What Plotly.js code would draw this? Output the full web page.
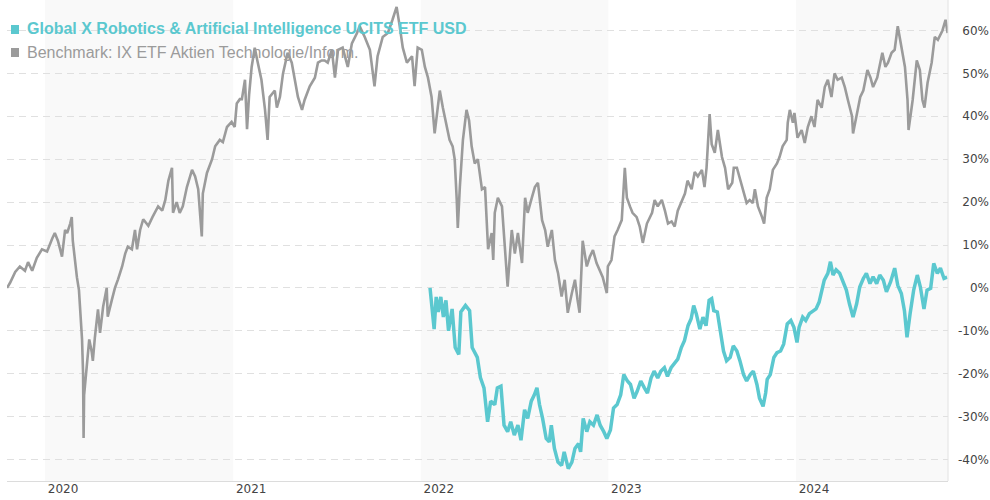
<!DOCTYPE html>
<html>
<head>
<meta charset="utf-8">
<script src="https://cdn.plot.ly/plotly-3.0.1.min.js"></script>
<style>
html,body{margin:0;padding:0;background:#fff;}
#chart{width:990px;height:500px;}
</style>
</head>
<body>
<div id="chart"></div>
<script>
// ---------- DATA ----------
const etfName = "Global X Robotics &amp; Artificial Intelligence UCITS ETF USD";
const benchName = "Benchmark: IX ETF Aktien Technologie/Inform.";

const benchDates = [
"2019-10-19","2019-10-25","2019-11-04","2019-11-13","2019-11-23","2019-11-29","2019-12-07","2019-12-16","2019-12-26",
"2020-01-05","2020-01-15","2020-01-20","2020-01-26","2020-02-03","2020-02-09","2020-02-13","2020-02-19","2020-02-22","2020-02-24",
"2020-02-28","2020-03-03","2020-03-07","2020-03-09","2020-03-11","2020-03-13","2020-03-15","2020-03-16","2020-03-17","2020-03-19",
"2020-03-21","2020-03-23","2020-03-27","2020-04-01","2020-04-03","2020-04-07","2020-04-13","2020-04-17","2020-04-23","2020-04-30",
"2020-05-02","2020-05-10","2020-05-16","2020-05-22","2020-05-30","2020-06-05","2020-06-10","2020-06-18","2020-06-24","2020-06-28",
"2020-07-04","2020-07-10","2020-07-20","2020-07-28","2020-08-02","2020-08-08","2020-08-16","2020-08-22","2020-08-28","2020-09-04",
"2020-09-06","2020-09-13","2020-09-19","2020-09-25","2020-10-03","2020-10-13","2020-10-19","2020-10-25","2020-11-01","2020-11-03",
"2020-11-11","2020-11-21","2020-11-27","2020-12-06","2020-12-12","2020-12-20","2020-12-29","2021-01-04","2021-01-08","2021-01-14",
"2021-01-18","2021-01-24","2021-01-28","2021-02-01","2021-02-06","2021-02-12","2021-02-17","2021-02-25","2021-03-04","2021-03-09",
"2021-03-13","2021-03-23","2021-03-27","2021-04-02","2021-04-08","2021-04-17","2021-04-25","2021-05-01","2021-05-07","2021-05-15",
"2021-05-20","2021-05-30","2021-06-09","2021-06-15","2021-06-22","2021-06-28","2021-07-04","2021-07-12","2021-07-18","2021-07-24",
"2021-08-02","2021-08-12","2021-08-20","2021-08-30","2021-09-04","2021-09-14","2021-09-24","2021-10-03","2021-10-09","2021-10-19",
"2021-10-29","2021-11-07","2021-11-15","2021-11-21","2021-11-27","2021-12-05","2021-12-15","2021-12-20","2021-12-26","2022-01-03",
"2022-01-09","2022-01-15","2022-01-22","2022-01-28","2022-02-03","2022-02-07","2022-02-13","2022-02-21","2022-02-26","2022-03-04",
"2022-03-08","2022-03-12","2022-03-14","2022-03-18","2022-03-24","2022-03-31","2022-04-05","2022-04-10","2022-04-16","2022-04-22",
"2022-04-30","2022-05-06","2022-05-12","2022-05-19","2022-05-22","2022-05-25","2022-05-31","2022-06-08","2022-06-13","2022-06-19",
"2022-06-27","2022-07-03","2022-07-09","2022-07-17","2022-07-23","2022-07-28","2022-08-05","2022-08-11","2022-08-17","2022-08-25",
"2022-08-31","2022-09-05","2022-09-13","2022-09-19","2022-09-25","2022-10-02","2022-10-08","2022-10-14","2022-10-22","2022-10-28",
"2022-11-02","2022-11-06","2022-11-12","2022-11-20","2022-11-26","2022-12-02","2022-12-09","2022-12-15","2022-12-21","2022-12-29",
"2022-12-31","2023-01-07","2023-01-13","2023-01-19","2023-01-27","2023-02-02","2023-02-06","2023-02-12","2023-02-17","2023-02-25",
"2023-03-03","2023-03-09","2023-03-17","2023-03-27","2023-04-01","2023-04-07","2023-04-15","2023-04-21","2023-04-27","2023-05-04",
"2023-05-10","2023-05-16","2023-05-24","2023-05-30","2023-06-04","2023-06-12","2023-06-18","2023-06-24","2023-07-02","2023-07-07",
"2023-07-11","2023-07-14","2023-07-17","2023-07-21","2023-07-27","2023-08-02","2023-08-10","2023-08-16","2023-08-22","2023-08-30",
"2023-09-02","2023-09-08","2023-09-13","2023-09-19","2023-09-27","2023-10-03","2023-10-09","2023-10-13","2023-10-19","2023-10-27",
"2023-10-31","2023-11-05","2023-11-11","2023-11-17","2023-11-25","2023-11-30","2023-12-06","2023-12-14","2023-12-16","2023-12-20",
"2023-12-26","2023-12-29","2024-01-04","2024-01-12","2024-01-18","2024-01-24","2024-01-31","2024-02-06","2024-02-12","2024-02-20",
"2024-02-26","2024-03-03","2024-03-10","2024-03-16","2024-03-22","2024-03-30","2024-04-05","2024-04-11","2024-04-19","2024-04-21",
"2024-04-29","2024-05-05","2024-05-11","2024-05-19","2024-05-25","2024-05-30","2024-06-07","2024-06-17","2024-06-23","2024-06-28",
"2024-07-05","2024-07-11","2024-07-17","2024-07-25","2024-07-31","2024-08-05","2024-08-07","2024-08-15","2024-08-23","2024-08-29",
"2024-09-03","2024-09-07","2024-09-13","2024-09-21","2024-09-27","2024-10-03","2024-10-10","2024-10-12","2024-10-18","2024-10-22"
];
const benchValues = [
0,1.2,3.7,5,4,6,4,7,9,
8.5,11.5,12.8,11,7.3,13.5,12.8,15,16.5,11,
5.8,2.5,-0.5,-5,-8,-12,-20,-35,-25,-22,
-21,-17,-12,-15,-17,-11.5,-5,-10.5,-4.4,0,
-6.7,-2.8,0,2,5,8,9.6,9,13.5,9,
13.5,16,14.5,16.5,17.5,19,18,20.5,25,28,
17.5,20,17.5,19,23.5,27.5,26,23,12,22,
26.8,30,33,34.5,34,37.5,38.7,37.5,43,44,
44,48.5,37,45,51.5,56,53,48.5,41.5,34.5,
44.5,46,42,44.5,50,54.8,52.5,48.5,44.5,41.5,
43.8,47,49,52.5,53,53,52.5,55.5,49,55.5,
56,51.5,57,59.4,61,58.5,55.5,47,54,58.5,
59.4,62.5,65.5,61,56,52.5,54,47,56,55.5,
51.5,49,44.5,36,41.5,46,42,37.5,34.5,33,
30,20.5,14,23.5,34.5,41.5,39,33,29,30,
23,23.5,9,12.8,6.5,17.5,21,19,9.6,0.3,
13.5,8,12.8,5.8,21,17.5,21,23.5,24.5,15.8,
13.5,9.6,13.5,6.5,3.5,-2,1.9,-5.8,-1.2,1.9,
-2.8,-5.8,11,5,7.3,8.8,5.8,4.2,2.5,-1.2,
5,6.5,12,13.5,15.8,28,21,19,17.5,16.5,
14.3,10.5,15,17.5,20.5,19,20.5,18,15,15.5,
14.3,18,20.5,22,25,23,27,26,27.5,23.5,
28,34,40.5,33.5,31.5,36.8,30.5,28,23,24.5,
28,28,26,23,19.8,20.5,19.8,23,19,16.5,
15,21,23,27.5,29,30.5,33,34.5,38.5,41.5,
38.5,40.8,35,36.8,33.8,37.5,40,37.5,43.8,42,
46.8,48.5,44.5,50,48.5,49,46.8,43.8,40,36,
40.8,44.5,46,50.8,49,46.8,49,54.8,51.5,52.5,
54.8,55.5,61,55.5,51.5,43.8,36.8,43.8,53,50.8,
43.8,42,47.8,52.5,58.5,57.8,59.4,60,62.5,59.4
];

const etfDates = [
"2022-01-19","2022-01-22","2022-01-27","2022-01-31","2022-02-04","2022-02-09","2022-02-14","2022-02-19","2022-02-24","2022-03-03",
"2022-03-09","2022-03-16","2022-03-20","2022-03-29","2022-04-06","2022-04-11","2022-04-21","2022-04-27","2022-05-04","2022-05-11",
"2022-05-17","2022-05-25","2022-05-30","2022-06-06","2022-06-12","2022-06-19","2022-06-25","2022-07-02","2022-07-09","2022-07-15",
"2022-07-22","2022-07-28","2022-08-04","2022-08-10","2022-08-15","2022-08-20","2022-08-26","2022-09-02","2022-09-08","2022-09-12",
"2022-09-18","2022-09-25","2022-10-02","2022-10-07","2022-10-15","2022-10-22","2022-10-28","2022-11-04","2022-11-08","2022-11-13",
"2022-11-20","2022-11-26","2022-12-03","2022-12-10","2022-12-16","2022-12-23","2022-12-29","2023-01-05","2023-01-11","2023-01-18",
"2023-01-25","2023-01-31","2023-02-07","2023-02-13","2023-02-20","2023-02-26","2023-03-05","2023-03-12","2023-03-18","2023-03-25",
"2023-03-31","2023-04-07","2023-04-13","2023-04-20","2023-04-26","2023-05-03","2023-05-09","2023-05-16","2023-05-23","2023-05-29",
"2023-06-05","2023-06-11","2023-06-16","2023-06-21","2023-06-28","2023-07-04","2023-07-10","2023-07-16","2023-07-21","2023-07-25",
"2023-08-01","2023-08-06","2023-08-13","2023-08-19","2023-08-26","2023-09-01","2023-09-08","2023-09-14","2023-09-21","2023-09-27",
"2023-10-04","2023-10-10","2023-10-17","2023-10-22","2023-10-29","2023-11-03","2023-11-06","2023-11-12","2023-11-19","2023-11-25",
"2023-12-02","2023-12-08","2023-12-15","2023-12-22","2023-12-28","2024-01-03","2024-01-07","2024-01-14","2024-01-20","2024-01-27",
"2024-02-03","2024-02-09","2024-02-15","2024-02-22","2024-02-25","2024-03-03","2024-03-08","2024-03-13","2024-03-19","2024-03-26",
"2024-04-02","2024-04-08","2024-04-14","2024-04-21","2024-04-28","2024-05-04","2024-05-11","2024-05-17","2024-05-24","2024-05-30",
"2024-06-06","2024-06-12","2024-06-19","2024-06-25","2024-07-03","2024-07-11","2024-07-17","2024-07-24","2024-07-30","2024-08-04",
"2024-08-10","2024-08-17","2024-08-24","2024-08-30","2024-09-06","2024-09-12","2024-09-19","2024-09-25","2024-10-02","2024-10-08",
"2024-10-15","2024-10-21"
];
const etfValues = [
0,-4.5,-9.6,-2.1,-5.6,-2.1,-6.8,-2.9,-10,-4.9,
-13.9,-15.5,-5.6,-4.1,-5.3,-13.9,-16.2,-20.9,-23.3,-31.2,
-26.4,-27.2,-23.3,-22.9,-32,-33.5,-31.2,-34.3,-32,-35.5,
-28.4,-30.4,-26.4,-24.9,-23.3,-27.2,-30.4,-35.1,-35.9,-32,
-37.4,-40.6,-41.4,-38.2,-42.1,-40.6,-37.4,-36.3,-38.2,-30.4,
-33.5,-31.2,-32,-29.6,-32,-33.5,-35.1,-33.1,-28,-27.2,
-24.9,-20.2,-21.7,-22.5,-25.7,-24.1,-21.7,-23.3,-24.5,-21,
-19.4,-21,-19.4,-18.6,-20.6,-18.6,-17.8,-16.6,-13.9,-12.3,
-8.8,-7.2,-4.1,-6,-9.6,-6.8,-8.8,-2.9,-2.5,-5.3,
-5.6,-10,-14.7,-17,-16.2,-13.5,-14.7,-17,-20.2,-21.7,
-20.2,-19.4,-22.5,-25.7,-27.6,-24.5,-21.3,-20.2,-16.2,-15.1,
-14.7,-13.1,-8.4,-7.6,-9.2,-12.7,-9.2,-6.8,-7.6,-6,
-5.3,-4.9,-3.3,-0.1,1.8,3.4,6.1,3,4.2,3.4,
1,-0.5,-3.7,-6.8,-3.7,0.2,2.2,3.4,1,2.6,
1,3,1.8,-0.9,1.4,4.6,0.6,-1.3,-5.3,-11.5,
-6,-0.5,3,0.2,-4.9,-0.5,-0.1,5.7,3.4,4.6,
2.2,2.5
];

const yearTicks = ["2020-01-01","2021-01-01","2022-01-01","2023-01-01","2024-01-01"];
const yearLabels = ["2020","2021","2022","2023","2024"];
const yTickVals = [-40,-30,-20,-10,0,10,20,30,40,50,60];
const yTickText = ["-40%","-30%","-20%","-10%","0%","10%","20%","30%","40%","50%","60%"];
const shadedYears = [["2020-01-01","2021-01-01"],["2022-01-01","2023-01-01"],["2024-01-01","2024-10-23"]];

// ---------- STYLE ----------
const TEAL = "#5bc8cf";
const GREY = "#9b9b9b";
const xRange = ["2019-10-19","2024-10-22 18:00"];

const traces = [
  {x: benchDates, y: benchValues, type: "scatter", mode: "lines", name: benchName,
   line: {color: GREY, width: 2.6}, hoverinfo: "skip"},
  {x: etfDates, y: etfValues, type: "scatter", mode: "lines", name: etfName,
   line: {color: TEAL, width: 3.5}, hoverinfo: "skip"}
];

const shapes = shadedYears.map(p => ({
  type: "rect", xref: "x", yref: "paper", x0: p[0], x1: p[1], y0: 0, y1: 1,
  fillcolor: "#f9f9f9", line: {width: 0}, layer: "below"
}));
shapes.push({type: "line", xref: "x domain", yref: "paper", x0: 1, x1: 1, y0: 0, y1: 1,
  line: {color: "#e2e2e2", width: 1}, layer: "above"});
// legend squares
shapes.push({type: "rect", xref: "paper", yref: "paper", x0: 4/983, x1: 12/983, y0: (481-34)/481, y1: (481-25)/481,
  fillcolor: TEAL, line: {width: 0}});
shapes.push({type: "rect", xref: "paper", yref: "paper", x0: 4/983, x1: 12/983, y0: (481-57)/481, y1: (481-48)/481,
  fillcolor: GREY, line: {width: 0}});

const annotations = [
  {xref: "paper", yref: "paper", x: 18/983, y: (481-29)/481, xanchor: "left", yanchor: "middle",
   text: "<b>" + etfName + "</b>", showarrow: false,
   font: {family: "Liberation Sans, Arial, sans-serif", size: 16, color: TEAL}},
  {xref: "paper", yref: "paper", x: 18/983, y: (481-53)/481, xanchor: "left", yanchor: "middle",
   text: benchName, showarrow: false,
   font: {family: "Liberation Sans, Arial, sans-serif", size: 16, color: GREY}}
];

const tickFont = {family: "DejaVu Sans, Verdana, sans-serif", size: 12, color: "#444"};

const layout = {
  width: 990, height: 500,
  margin: {l: 7, r: 0, t: 0, b: 19, pad: 0},
  paper_bgcolor: "#fff", plot_bgcolor: "rgba(0,0,0,0)",
  showlegend: false,
  xaxis: {
    type: "date", domain: [0, 941/983], range: xRange,
    tickvals: yearTicks, ticktext: yearLabels, ticks: "", ticklen: 0,
    showgrid: false, zeroline: false,
    showline: true, linecolor: "#dcdcdc", linewidth: 1,
    tickfont: tickFont, ticklabelshift: 18, ticklabelstandoff: -3
  },
  yaxis: {
    anchor: "free", position: 1, side: "left",
    range: [-45, 67.1],
    tickvals: yTickVals, ticktext: yTickText, ticks: "", ticklen: 0,
    showgrid: true, gridcolor: "#e0e0e0", gridwidth: 1, griddash: "7px,5px",
    zeroline: false, showline: false,
    tickfont: tickFont, ticklabelstandoff: 1
  },
  shapes: shapes,
  annotations: annotations
};

Plotly.newPlot("chart", traces, layout, {staticPlot: true, displayModeBar: false});
</script>
</body>
</html>
